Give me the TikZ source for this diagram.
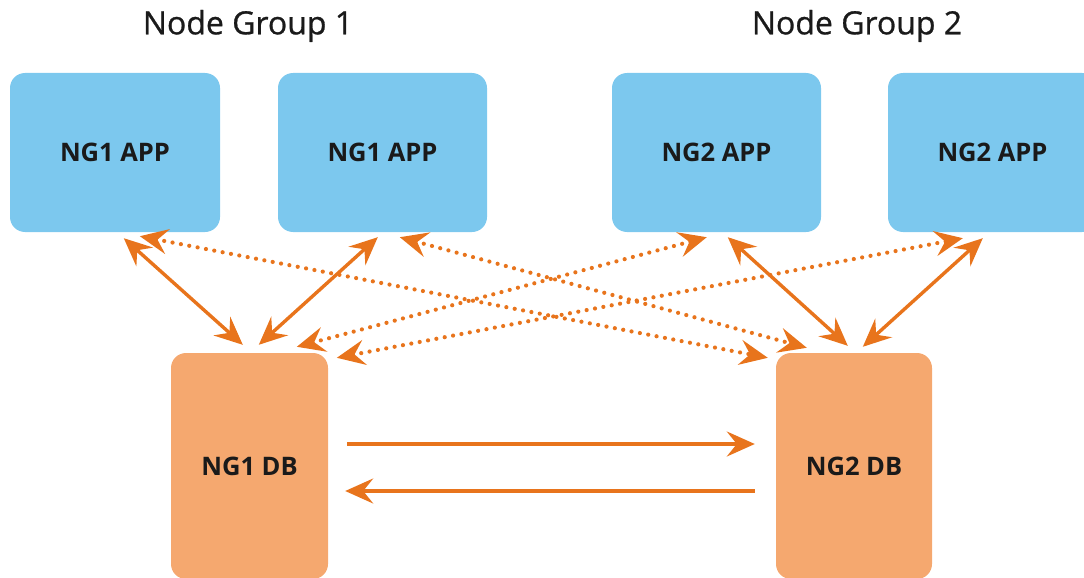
\documentclass[tikz,border=0pt]{standalone}
\usepackage{fontspec}
\setmainfont{Open Sans}
\usetikzlibrary{arrows.meta,calc}
\definecolor{appblue}{HTML}{7CC8EE}
\definecolor{dborange}{HTML}{F5A86F}
\definecolor{linkorange}{HTML}{E8741C}
\definecolor{txt}{HTML}{1A1A1A}
\begin{document}
\begin{tikzpicture}[x=1pt,y=-1pt,
  appbox/.style={rectangle,rounded corners=15pt,fill=appblue,minimum width=209pt,minimum height=159pt,inner sep=0pt,text=txt,font=\fontsize{25.5}{28}\selectfont\bfseries},
  dbbox/.style={rectangle,rounded corners=15pt,fill=dborange,minimum width=157pt,minimum height=226pt,inner sep=0pt,text=txt,font=\fontsize{25.5}{28}\selectfont\bfseries},
  grouptitle/.style={text=txt,inner sep=0pt,font=\fontsize{32}{35}\selectfont\addfontfeature{FakeBold=0.8}},
  solidlink/.style={draw=linkorange,line width=3.4pt,{Stealth[length=28pt,width=25pt,inset=10pt]}-{Stealth[length=28pt,width=25pt,inset=10pt]}},
  dotlink/.style={draw=linkorange,line width=4.2pt,line cap=round,dash pattern=on 0pt off 8.5pt,{Stealth[length=28pt,width=25pt,inset=10pt,line cap=butt]}-{Stealth[length=28pt,width=25pt,inset=10pt,line cap=butt]}},
  onelink/.style={draw=linkorange,line width=3.2pt,-{Stealth[length=28pt,width=25pt,inset=10pt]}}
]
\useasboundingbox (0,0) rectangle (1084,578);
\begin{scope}
\clip (0,0) rectangle (1084,578);
\node[grouptitle] (t1) at (248,26) {Node Group 1};
\node[grouptitle] (t2) at (857,26) {Node Group 2};
\node[appbox,minimum width=210pt] (a1) at (115,152.5) {NG1 APP};
\node[appbox] (a2) at (382.5,152.5) {NG1 APP};
\node[appbox] (a3) at (716.5,152.5) {NG2 APP};
\node[appbox] (a4) at (992.5,152.5) {NG2 APP};
\node[dbbox] (d1) at (249.5,466) {NG1 DB};
\node[dbbox,minimum width=156pt] (d2) at (854,466) {NG2 DB};

% solid double arrows
\draw[solidlink] ($(a1.south west)+(114,6)$) -- ($(d1.north west)+(72,-8)$);
\draw[solidlink] ($(a2.south west)+(100,5)$) -- ($(d1.north west)+(88,-8)$);
\draw[solidlink] ($(a3.south west)+(116,5)$) -- ($(d2.north west)+(72,-7)$);
\draw[solidlink] ($(a4.south west)+(95,6)$) -- ($(d2.north west)+(87,-6)$);
% dotted double arrows
\draw[dotlink] ($(a1.south west)+(130,4)$) -- ($(d2.north west)+(-8,5)$);
\draw[dotlink] ($(a2.south west)+(122,5)$) -- ($(d2.north west)+(31,-5)$);
\draw[dotlink] ($(d1.north west)+(126,-6)$) -- ($(a3.south west)+(95,5)$);
\draw[dotlink] ($(d1.north west)+(166,5)$) -- ($(a4.south west)+(75,6)$);
% replication arrows
\draw[onelink] ($(d1.east)+(19,-22)$) -- ($(d2.west)+(-21,-22)$);
\draw[onelink] ($(d2.west)+(-21,25)$) -- ($(d1.east)+(17,25)$);
\end{scope}
\end{tikzpicture}
\end{document}
